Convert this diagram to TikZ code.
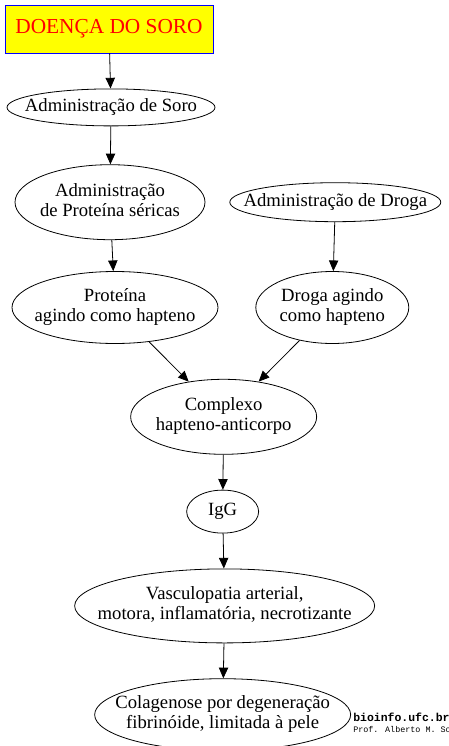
\documentclass[tikz,border=0pt]{standalone}
\usepackage{fontspec}
\setmainfont{Liberation Serif}
\newfontfamily\sitefont{Liberation Mono}
\usetikzlibrary{positioning,arrows.meta,shapes.geometric,calc}
\definecolor{SoroYellow}{RGB}{255,255,0}
\definecolor{SoroBlue}{RGB}{0,0,255}
\definecolor{SoroRed}{RGB}{255,0,0}
\newcommand{\rotulo}[1]{\makebox[0pt]{\begin{tabular}{@{}c@{}}#1\end{tabular}}}

\begin{document}
\begin{tikzpicture}[
    node distance=26.25pt,
    titlebox/.style={
        rectangle, draw=SoroBlue, fill=SoroYellow, text=SoroRed,
        line width=0.75pt,
        minimum width=156pt, minimum height=36pt,
        font=\fontsize{16}{18}\selectfont
    },
    elli/.style={
        ellipse, draw, inner sep=0pt, line width=0.6pt,
        font=\fontsize{14}{15}\selectfont
    },
    arrow/.style={-{Triangle[length=8pt, width=7pt]}, line width=0.6pt}
]
\useasboundingbox (0,0) rectangle (336.75pt,-559.5pt);

\node[titlebox] (titulo) at (81.75pt,-21.75pt) {DOENÇA DO SORO};

\node[elli, minimum width=156pt, minimum height=27.75pt, below=of titulo, xshift=1.5pt] (soro)
    {\rotulo{Administração de Soro}};

\node[elli, minimum width=142.5pt, minimum height=56.25pt, below=28.5pt of soro, xshift=-0.75pt] (sericas)
    {\rotulo{Administração\\de Proteína séricas}};

\node[elli, minimum width=158.25pt, minimum height=29.25pt, right=18pt of sericas] (droga)
    {\rotulo{Administração de Droga}};

\node[elli, minimum width=154.5pt, minimum height=54pt, below=23.25pt of sericas, xshift=3.75pt] (hapteno)
    {\rotulo{Proteína\\agindo como hapteno}};

\node[elli, minimum width=114.75pt, minimum height=54pt, right=27.75pt of hapteno] (drhapteno)
    {\rotulo{Droga agindo\\como hapteno}};

\coordinate (juncao) at ($(hapteno.south)!0.5!(drhapteno.south)$);

\node[elli, minimum width=139.5pt, minimum height=56.25pt, below=of juncao] (complexo)
    {\rotulo{Complexo\\hapteno-anticorpo}};

\node[elli, minimum width=54pt, minimum height=32.25pt, below=of complexo, xshift=-0.75pt] (igg)
    {\rotulo{IgG}};

\node[elli, minimum width=225pt, minimum height=55.5pt, below=of igg, xshift=1.5pt] (vasculo)
    {\rotulo{Vasculopatia arterial,\\motora, inflamatória, necrotizante}};

\node[elli, minimum width=192pt, minimum height=54pt, below=of vasculo, xshift=-1.5pt] (colageno)
    {\rotulo{Colagenose por degeneração\\fibrinóide, limitada à pele}};

% assinatura
\node[anchor=west, inner sep=0pt, font=\sitefont\bfseries\fontsize{8.6}{9}\selectfont] (site) at (264.75pt,-537.75pt) {bioinfo.ufc.br};
\node[anchor=west, inner sep=0pt, font=\sitefont\fontsize{6.3}{7}\selectfont] (autor) at (264.75pt,-546.75pt) {Prof. Alberto M. So};

\draw[arrow] (titulo) -- (soro);
\draw[arrow] (soro) -- (sericas);
\draw[arrow] (sericas) -- (hapteno);
\draw[arrow] (droga) -- (drhapteno);
\draw[arrow] (hapteno) -- (complexo);
\draw[arrow] (drhapteno) -- (complexo);
\draw[arrow] (complexo) -- (igg);
\draw[arrow] (igg) -- (vasculo);
\draw[arrow] (vasculo) -- (colageno);

\end{tikzpicture}
\end{document}
